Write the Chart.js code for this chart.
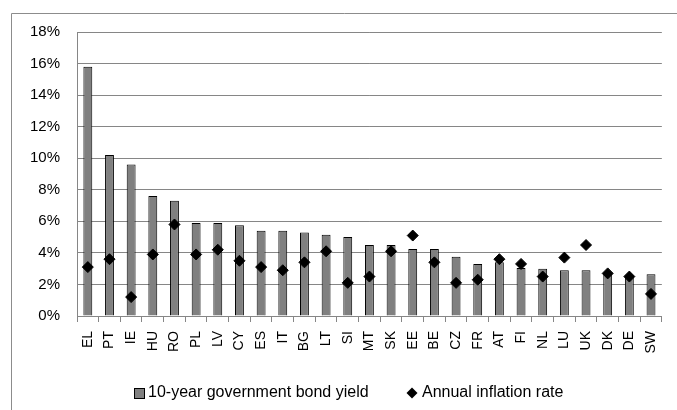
<!DOCTYPE html>
<html lang="en">
<head>
  <meta charset="UTF-8" />
  <title>Bond yields vs inflation</title>
  <script src="https://cdn.jsdelivr.net/npm/chart.js"></script>
  <style>
    html, body { margin: 0; padding: 0; background: #fff; }
    #wrap { width: 677px; height: 410px; }
  </style>
</head>
<body>
  <div id="wrap"><canvas id="chart" width="677" height="410"></canvas></div>

  <script>
    const countries = ['EL', 'PT', 'IE', 'HU', 'RO', 'PL', 'LV', 'CY', 'ES', 'IT', 'BG', 'LT', 'SI', 'MT',
      'SK', 'EE', 'BE', 'CZ', 'FR', 'AT', 'FI', 'NL', 'LU', 'UK', 'DK', 'DE', 'SW'];
    const bondYield = [15.8, 10.2, 9.6, 7.6, 7.3, 5.9, 5.9, 5.75, 5.4, 5.4, 5.3, 5.15, 5.0, 4.5,
      4.5, 4.25, 4.25, 3.75, 3.3, 3.4, 3.05, 3.0, 2.9, 2.9, 2.7, 2.55, 2.65];
    const inflation = [3.1, 3.6, 1.2, 3.9, 5.8, 3.9, 4.2, 3.5, 3.1, 2.9, 3.4, 4.1, 2.1, 2.5,
      4.1, 5.1, 3.4, 2.1, 2.3, 3.6, 3.3, 2.5, 3.7, 4.5, 2.7, 2.5, 1.4];
    const yTicks = [0, 2, 4, 6, 8, 10, 12, 14, 16, 18];
    const seriesNames = ['10-year government bond yield', 'Annual inflation rate'];

    const FONT = "'Liberation Sans', Arial, sans-serif";
    Chart.defaults.font.family = FONT;
    Chart.defaults.color = '#000';

    // outer frame of the chart area (right and bottom edges fall outside the picture)
    const frame = {
      id: 'frame',
      beforeDraw(chart) {
        const ctx = chart.ctx;
        ctx.save();
        ctx.strokeStyle = '#8c8c8c';
        ctx.lineWidth = 1;
        ctx.beginPath();
        ctx.moveTo(11.5, 420);
        ctx.lineTo(11.5, 13.5);
        ctx.lineTo(690, 13.5);
        ctx.stroke();
        ctx.restore();
      }
    };

    // spreadsheet-style legend: square swatch, diamond marker, tight text gap
    const sheetLegend = {
      id: 'sheetLegend',
      afterDraw(chart) {
        const ctx = chart.ctx;
        const y = 393;
        ctx.save();
        ctx.font = '16px ' + FONT;
        ctx.textBaseline = 'middle';
        ctx.fillStyle = '#000';

        // bar series swatch
        ctx.fillStyle = '#808080';
        ctx.fillRect(134.5, 388.5, 10, 10);
        ctx.strokeStyle = '#000';
        ctx.lineWidth = 1;
        ctx.strokeRect(134.5, 388.5, 10, 10);
        ctx.fillStyle = '#000';
        ctx.fillText(seriesNames[0], 148, y);

        // inflation marker
        ctx.beginPath();
        ctx.moveTo(412, y - 5.5);
        ctx.lineTo(417.5, y);
        ctx.lineTo(412, y + 5.5);
        ctx.lineTo(406.5, y);
        ctx.closePath();
        ctx.fill();
        ctx.fillText(seriesNames[1], 422, y);
        ctx.restore();
      }
    };

    new Chart(document.getElementById('chart').getContext('2d'), {
      data: {
        labels: countries,
        datasets: [{
          type: 'line',
          label: seriesNames[1],
          data: inflation,
          showLine: false,
          pointStyle: 'rectRot',
          pointRadius: 5.5,
          pointBorderWidth: 1,
          pointBackgroundColor: '#000',
          pointBorderColor: '#000',
          backgroundColor: '#000',
          borderColor: '#000',
          order: 0
        }, {
          type: 'bar',
          label: seriesNames[0],
          data: bondYield,
          backgroundColor: '#808080',
          borderColor: '#000',
          borderWidth: 1,
          categoryPercentage: 1,
          barPercentage: 0.41,
          order: 1
        }]
      },
      options: {
        responsive: false,
        animation: false,
        layout: { padding: { left: 11, top: 32, right: 10, bottom: 50 } },
        plugins: {
          tooltip: { enabled: false },
          legend: { display: false }
        },
        scales: {
          x: {
            grid: { display: true, drawOnChartArea: false, color: '#868686', tickLength: 6 },
            border: { color: '#868686' },
            ticks: { minRotation: 90, maxRotation: 90, autoSkip: false, padding: 9, font: { size: 14 } },
            afterFit: s => { s.height = 44; }
          },
          y: {
            min: 0,
            max: 18,
            afterBuildTicks: s => { s.ticks = yTicks.map(v => ({ value: v })); },
            afterFit: s => { s.width = 66; },
            grid: { color: '#868686', drawTicks: false },
            border: { color: '#868686' },
            ticks: { callback: v => v + '%', padding: 17, font: { size: 15 } }
          }
        }
      },
      plugins: [frame, sheetLegend]
    });
  </script>
</body>
</html>
